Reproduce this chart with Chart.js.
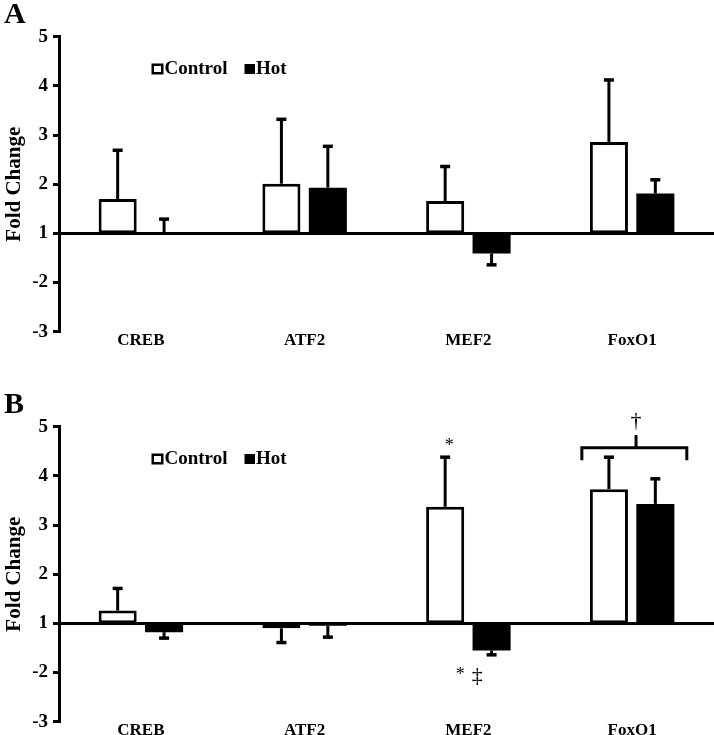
<!DOCTYPE html>
<html><head><meta charset="utf-8">
<script src="https://cdn.jsdelivr.net/npm/chart.js@4/dist/chart.umd.min.js"></script>
<style>
html,body{margin:0;padding:0;background:#fff;overflow:hidden;width:714px;height:735px;}
canvas{position:absolute;left:0;}
#cA{top:0}
#cB{top:390px}
</style></head><body>
<canvas id="cA" width="714" height="360"></canvas>
<canvas id="cB" width="714" height="360"></canvas>
<script>
// ---- data ----
const categories = ['CREB', 'ATF2', 'MEF2', 'FoxO1'];
const seriesNames = ['Control', 'Hot'];
const yTickValues = [5, 4, 3, 2, 1, -2, -3];

const panelA_control    = [1.70, 2.01, 1.66, 2.86];
const panelA_controlErr = [0.99, 1.31, 0.70, 1.26];
const panelA_hot        = [1.00, 1.93, -1.41, 1.81];
const panelA_hotErr     = [0.29, 0.84, 0.23, 0.28];

const panelB_control    = [1.26, -1.10, 3.37, 3.73];
const panelB_controlErr = [0.45, 0.29, 1.01, 0.65];
const panelB_hot        = [-1.18, -1.05, -1.55, 3.43];
const panelB_hotErr     = [0.12, 0.23, 0.09, 0.51];

// significance marks for panel B (category index, offset in category widths, fold-change level)
const panelB_marks = [
  {text: '*', cat: 2, off: -0.117, fc: 4.60, size: 18},
  {text: '*', cat: 2, off: -0.049, fc: -2.06, size: 18},
  {text: '\u2021', cat: 2, off: 0.054, fc: -2.07, size: 22},
  {text: '\u2020', cat: 3, off: 0.024, fc: 5.12, size: 22}
];
const panelB_bracket = {cat: 3, left: -0.307, right: 0.334, stem: 0.024, fcLine: 4.57, fcLegs: 4.32, fcStem: 4.83};

// ---- helpers ----
const FONT = "'Liberation Serif', 'Times New Roman', serif";
function toPos(fc) { return fc >= 1 ? fc : fc + 2; }     // axis skips between -1 and 1
function posLabel(p) { return p >= 1 ? p : p - 2; }
function tipOf(fc, e) { return fc >= 1 ? fc + e : fc - e; }

function makePanel(canvasId, letter, control, controlErr, hot, hotErr, marks, bracket) {
  const vals = [control, hot];
  const errs = [controlErr, hotErr];
  const decor = {
    id: 'decor' + letter,
    afterDatasetsDraw(chart) {
      const ctx = chart.ctx, y = chart.scales.y;
      ctx.save();
      ctx.strokeStyle = '#000'; ctx.fillStyle = '#000'; ctx.lineWidth = 3;
      for (let d = 0; d < 2; d++) {
        const meta = chart.getDatasetMeta(d);
        meta.data.forEach((bar, i) => {
          const fc = vals[d][i];
          const y0 = y.getPixelForValue(toPos(fc));
          const y1 = y.getPixelForValue(toPos(tipOf(fc, errs[d][i])));
          ctx.beginPath(); ctx.moveTo(bar.x, y0); ctx.lineTo(bar.x, y1); ctx.stroke();
          ctx.fillRect(bar.x - 5, y1 - 1.75, 10, 3.5);
        });
      }
      ctx.restore();
    },
    afterDraw(chart) {
      const ctx = chart.ctx, x = chart.scales.x, y = chart.scales.y;
      const cw = x.width / categories.length;
      ctx.save();
      ctx.fillStyle = '#000'; ctx.strokeStyle = '#000';
      // panel letter
      ctx.font = 'bold 30px ' + FONT;
      ctx.textBaseline = 'alphabetic'; ctx.textAlign = 'left';
      ctx.fillText(letter, 4, 23);
      // legend
      ctx.lineWidth = 2.5;
      ctx.strokeRect(152.75, 64.75, 9.5, 8.5);
      ctx.fillRect(244.5, 64, 10.5, 10);
      ctx.font = 'bold 19px ' + FONT;
      ctx.fillText(seriesNames[0], 164.5, 74);
      ctx.fillText(seriesNames[1], 256, 74);
      // marks
      ctx.textAlign = 'center'; ctx.textBaseline = 'middle';
      (marks || []).forEach(m => {
        ctx.font = m.size + 'px ' + FONT;
        ctx.fillText(m.text, x.getPixelForValue(m.cat) + m.off * cw, y.getPixelForValue(toPos(m.fc)));
      });
      if (bracket) {
        const cx = x.getPixelForValue(bracket.cat);
        const xl = cx + bracket.left * cw, xr = cx + bracket.right * cw, xs = cx + bracket.stem * cw;
        const yl = y.getPixelForValue(toPos(bracket.fcLine));
        const yg = y.getPixelForValue(toPos(bracket.fcLegs));
        const ys = y.getPixelForValue(toPos(bracket.fcStem));
        ctx.lineWidth = 3; ctx.lineCap = 'butt'; ctx.lineJoin = 'miter';
        ctx.beginPath();
        ctx.moveTo(xl, yg); ctx.lineTo(xl, yl); ctx.lineTo(xr, yl); ctx.lineTo(xr, yg);
        ctx.stroke();
        ctx.beginPath(); ctx.moveTo(xs, yl); ctx.lineTo(xs, ys); ctx.stroke();
      }
      ctx.restore();
    }
  };

  return new Chart(document.getElementById(canvasId), {
    type: 'bar',
    data: {
      labels: categories,
      datasets: [
        {label: seriesNames[0], data: control.map(v => [1, toPos(v)]), backgroundColor: '#fff', borderColor: '#000', borderWidth: 3, borderSkipped: false, inflateAmount: 0},
        {label: seriesNames[1], data: hot.map(v => [1, toPos(v)]), backgroundColor: '#000', borderColor: '#000', borderWidth: 0, borderSkipped: false, inflateAmount: 0}
      ]
    },
    options: {
      responsive: false, animation: false, devicePixelRatio: 1,
      layout: {padding: {top: 36.7, left: 0, right: 0, bottom: 0}},
      plugins: {legend: {display: false}, tooltip: {enabled: false}},
      datasets: {bar: {categoryPercentage: 0.567, barPercentage: 0.82}},
      scales: {
        x: {
          grid: {display: false, drawTicks: false, tickLength: 0}, border: {display: false},
          ticks: {color: '#000', font: {family: FONT, size: 17, weight: 'bold'}, padding: -1, maxRotation: 0},
          afterFit(s) { s.height = 28.3; }
        },
        y: {
          min: -1, max: 5, z: 1,
          afterBuildTicks(s) { s.ticks = yTickValues.map(v => ({value: toPos(v)})); },
          ticks: {color: '#000', font: {family: FONT, size: 19, weight: 'bold'}, padding: 5,
                  callback: (v) => String(posLabel(v))},
          grid: {drawOnChartArea: true,
                 color: (c) => (c.tick && c.tick.value === 1) ? '#000' : 'rgba(0,0,0,0)',
                 lineWidth: 3, tickColor: '#000', tickWidth: 3, tickLength: 6},
          border: {display: true, color: '#000', width: 3},
          title: {display: true, text: 'Fold Change', color: '#000',
                  font: {family: FONT, size: 21, weight: 'bold'}, padding: {top: 2, bottom: 0}},
          afterFit(s) { s.width = 59; }
        }
      }
    },
    plugins: [decor]
  });
}

makePanel('cA', 'A', panelA_control, panelA_controlErr, panelA_hot, panelA_hotErr, null, null);
makePanel('cB', 'B', panelB_control, panelB_controlErr, panelB_hot, panelB_hotErr, panelB_marks, panelB_bracket);
</script>
</body></html>
